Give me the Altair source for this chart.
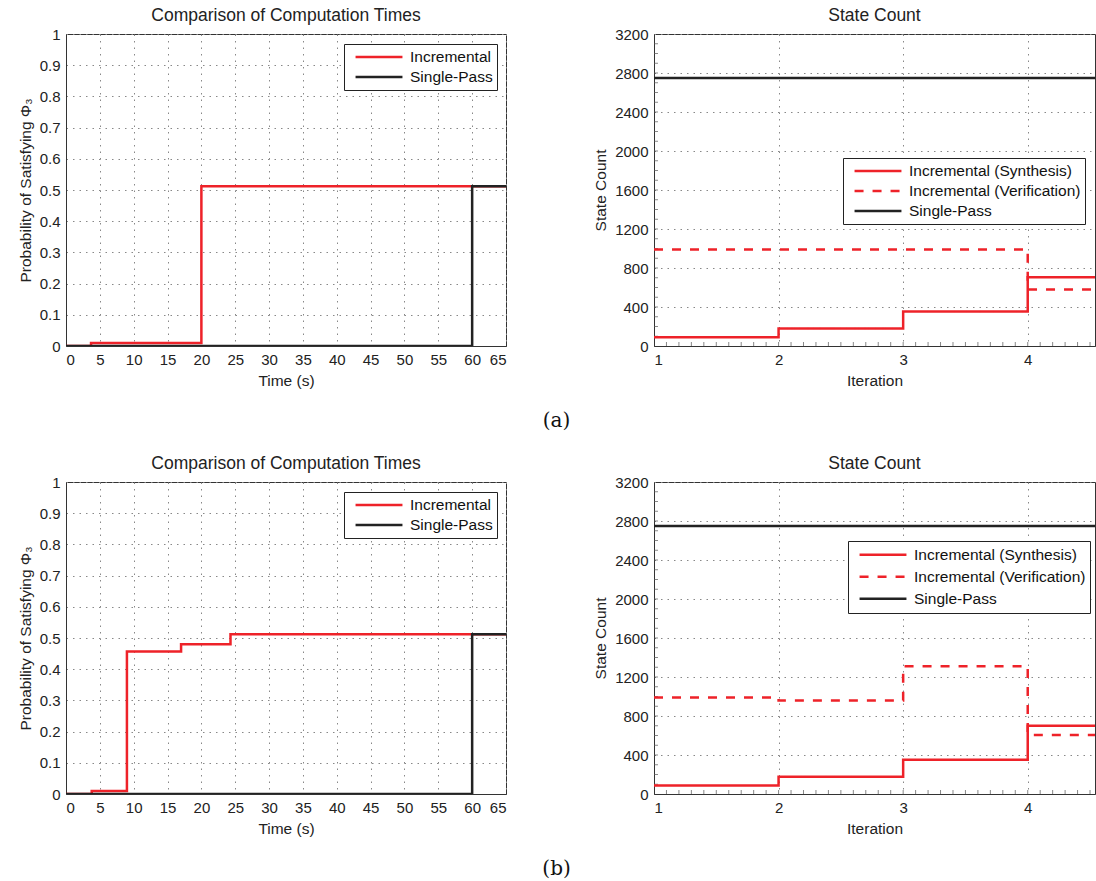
import altair as alt
import pandas as pd

# ---------------- data ----------------
series_left = ["Incremental", "Single-Pass"]
series_right = ["Incremental (Synthesis)", "Incremental (Verification)", "Single-Pass"]

# (a) left: probability vs time
a_inc_t = [0, 3.7, 20.0, 65]
a_inc_p = [0, 0.01, 0.512, 0.512]
a_sp_t = [0, 60.0, 65]
a_sp_p = [0, 0.512, 0.512]

# (b) left
b_inc_t = [0, 3.8, 9.0, 17.0, 24.3, 65]
b_inc_p = [0, 0.01, 0.457, 0.48, 0.512, 0.512]
b_sp_t = [0, 60.0, 65]
b_sp_p = [0, 0.512, 0.512]

# right: state counts per iteration
iters = [1, 2, 3, 4, 5]
a_syn = [90, 180, 355, 705, 705]
a_ver = [990, 990, 990, 580, 580]
a_single = [2750, 2750, 2750, 2750, 2750]
b_syn = [88, 176, 352, 700, 700]
b_ver = [990, 958, 1310, 605, 605]
b_single = [2750, 2750, 2750, 2750, 2750]

time_ticks = [0, 5, 10, 15, 20, 25, 30, 35, 40, 45, 50, 55, 60, 65]
prob_ticks = [0, 0.1, 0.2, 0.3, 0.4, 0.5, 0.6, 0.7, 0.8, 0.9, 1.0]
iter_ticks = [1, 2, 3, 4]
count_ticks = [0, 400, 800, 1200, 1600, 2000, 2400, 2800, 3200]
iter_minor = [1 + i / 10 for i in range(1, 36)]
count_minor = [i * 100 for i in range(1, 32)]

RED = "#ee2229"
BLACK = "#222222"
FONT = "Liberation Sans"


def left_df(inc_t, inc_p, sp_t, sp_p):
    rows = [{"t": t, "p": p, "s": "Incremental"} for t, p in zip(inc_t, inc_p)]
    rows += [{"t": t, "p": p, "s": "Single-Pass"} for t, p in zip(sp_t, sp_p)]
    return pd.DataFrame(rows)


def right_df(syn, ver, single):
    rows = [{"i": i, "c": c, "s": series_right[0]} for i, c in zip(iters, syn)]
    rows += [{"i": i, "c": c, "s": series_right[1]} for i, c in zip(iters, ver)]
    rows += [{"i": i, "c": c, "s": series_right[2]} for i, c in zip(iters, single)]
    return pd.DataFrame(rows)


def make_legend(lx, ly, ch):
    return alt.Legend(
        title=None, orient="none", legendX=lx, legendY=ly,
        symbolType="stroke", symbolSize=2200, symbolStrokeWidth=2.5,
        labelFont=FONT, labelFontSize=15.5, labelColor="#111",
        strokeColor="#222", padding=4, clipHeight=ch, rowPadding=2, labelOffset=6,
        symbolOffset=6, fillColor="white", labelLimit=400,
    )


X_T = alt.X("t:Q", scale=alt.Scale(domain=[0, 65], nice=False),
            axis=alt.Axis(values=time_ticks, title="Time (s)", format="~g"))
Y_P = alt.Y("p:Q", scale=alt.Scale(domain=[0, 1], nice=False),
            axis=alt.Axis(values=prob_ticks, title="Probability of Satisfying Φ₃", format="~g"))
X_I = alt.X("i:Q", scale=alt.Scale(domain=[1, 4.54], nice=False),
            axis=alt.Axis(values=iter_ticks, title="Iteration", format="d"))
Y_C = alt.Y("c:Q", scale=alt.Scale(domain=[0, 3200], nice=False),
            axis=alt.Axis(values=count_ticks, title="State Count", format="d"))


def left_panel(df):
    leg = make_legend(278, 10, 18)
    return alt.Chart(df).mark_line(interpolate="step-after", strokeWidth=2.5, clip=True).encode(
        x=X_T, y=Y_P,
        color=alt.Color("s:N", scale=alt.Scale(domain=series_left, range=[RED, BLACK]), legend=leg),
    ).properties(width=440, height=312, title="Comparison of Computation Times")


def right_panel(df, lx, ly, ch):
    leg = make_legend(lx, ly, ch)
    lines = alt.Chart(df).mark_line(interpolate="step-after", strokeWidth=2.5, clip=True).encode(
        x=X_I, y=Y_C,
        color=alt.Color("s:N", scale=alt.Scale(domain=series_right, range=[RED, RED, BLACK]), legend=leg),
        strokeDash=alt.StrokeDash("s:N", scale=alt.Scale(domain=series_right, range=[[1, 0], [9, 9], [1, 0]]), legend=leg),
    )
    xminor = alt.Chart(pd.DataFrame({"i": iter_minor})).mark_tick(
        orient="vertical", size=4, thickness=1, color="#555", clip=True
    ).encode(x=X_I, y=alt.value(310))
    yminor = alt.Chart(pd.DataFrame({"c": count_minor})).mark_tick(
        orient="horizontal", size=4, thickness=1, color="#555", clip=True
    ).encode(y=Y_C, x=alt.value(2))
    return alt.layer(xminor, yminor, lines).properties(width=441, height=312, title="State Count")


def row(label, ldf, rdf, lx, ly, ch):
    return alt.hconcat(left_panel(ldf), right_panel(rdf, lx, ly, ch), spacing=86).resolve_scale(
        color="independent", strokeDash="independent"
    ).properties(title=alt.TitleParams(label, orient="bottom", anchor="middle", font="DejaVu Serif",
                                       fontSize=20, fontWeight="normal", color="#111", offset=22))


row_a = row("(a)", left_df(a_inc_t, a_inc_p, a_sp_t, a_sp_p), right_df(a_syn, a_ver, a_single), 189, 124, 18)
row_b = row("(b)", left_df(b_inc_t, b_inc_p, b_sp_t, b_sp_p), right_df(b_syn, b_ver, b_single), 194, 59, 19.5)

chart = alt.vconcat(row_a, row_b, spacing=23).properties(
    padding={"left": 17, "top": 6, "right": 0, "bottom": 0}
).configure_view(stroke="#333", strokeWidth=1).configure_axis(
    labelFont=FONT, titleFont=FONT, labelFontSize=15, titleFontSize=15.5,
    labelColor="#222", titleColor="#222", titleFontWeight="normal",
    domainColor="#333", tickColor="#333", tickSize=0,
    gridColor="#888", gridDash=[1.5, 5], gridOpacity=1, labelPadding=6, titlePadding=6,
).configure_title(font=FONT, fontSize=17.5, fontWeight="normal", color="#222", offset=3)

chart.save("out.html", embed_options={"renderer": "svg", "actions": False})
